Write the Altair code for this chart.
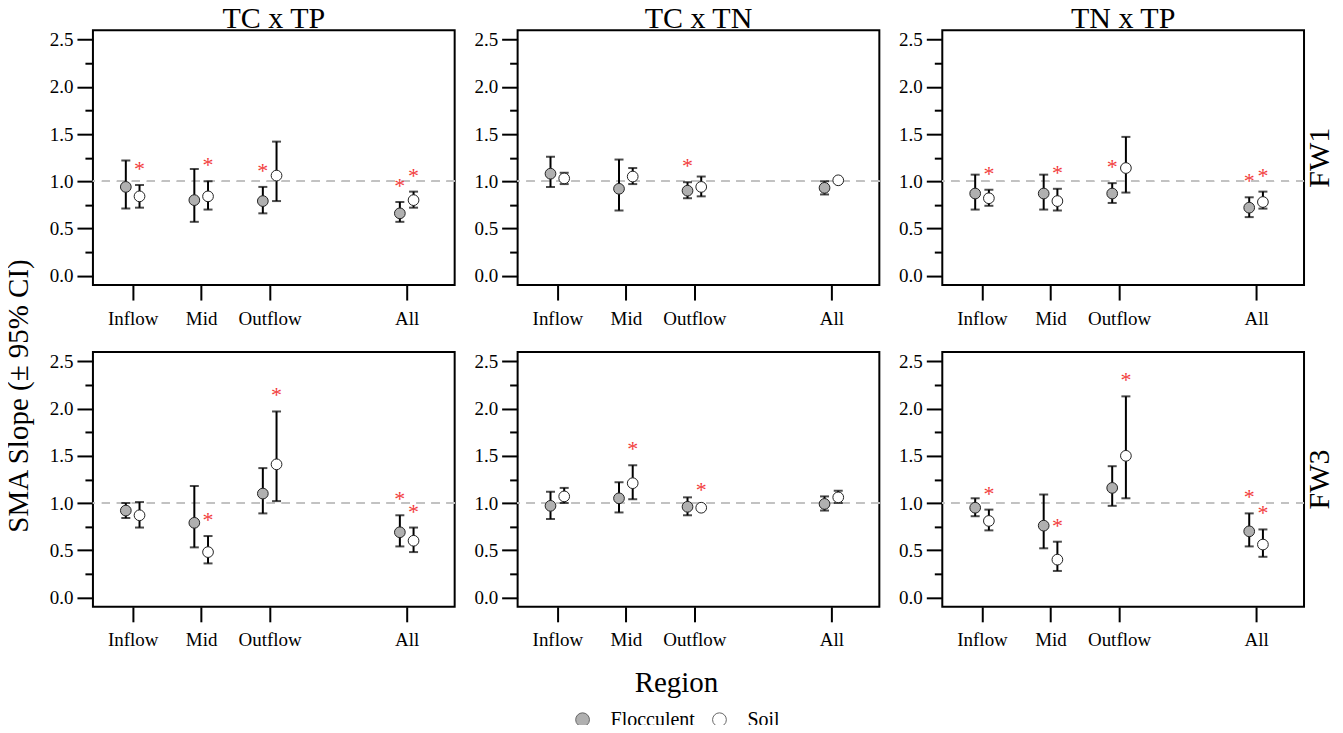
import altair as alt
import pandas as pd

comparisons = ["TC x TP", "TC x TN", "TN x TP"]
sites = ["FW1", "FW3"]
regions = ["Inflow", "Mid", "Outflow", "All"]
region_pos = [1, 2, 3, 5]
types = ["Flocculent", "Soil"]

# values ordered: TC x TP (Inflow, Mid, Outflow, All), TC x TN (...), TN x TP (...)
fw1_floc_slope = [0.94, 0.80, 0.79, 0.66, 1.08, 0.92, 0.90, 0.93, 0.87, 0.87, 0.87, 0.72]
fw1_floc_lower = [0.71, 0.57, 0.66, 0.57, 0.94, 0.69, 0.82, 0.86, 0.70, 0.70, 0.77, 0.62]
fw1_floc_upper = [1.22, 1.13, 0.94, 0.78, 1.26, 1.23, 0.99, 1.00, 1.07, 1.07, 0.98, 0.83]
fw1_floc_sig = [0, 0, 1, 1, 0, 0, 1, 0, 0, 0, 1, 1]

fw1_soil_slope = [0.84, 0.84, 1.06, 0.80, 1.03, 1.05, 0.94, 1.01, 0.82, 0.79, 1.14, 0.78]
fw1_soil_lower = [0.72, 0.70, 0.79, 0.72, 0.97, 0.97, 0.84, 0.99, 0.74, 0.69, 0.88, 0.71]
fw1_soil_upper = [0.96, 1.00, 1.42, 0.89, 1.09, 1.14, 1.05, 1.03, 0.91, 0.92, 1.47, 0.89]
fw1_soil_sig = [1, 1, 0, 1, 0, 0, 0, 0, 1, 1, 0, 1]

fw3_floc_slope = [0.92, 0.79, 1.10, 0.69, 0.97, 1.05, 0.96, 0.99, 0.95, 0.76, 1.16, 0.70]
fw3_floc_lower = [0.84, 0.53, 0.89, 0.54, 0.83, 0.90, 0.87, 0.92, 0.86, 0.52, 0.97, 0.54]
fw3_floc_upper = [1.00, 1.18, 1.37, 0.87, 1.12, 1.22, 1.06, 1.07, 1.05, 1.09, 1.39, 0.89]
fw3_floc_sig = [0, 0, 0, 1, 0, 0, 0, 0, 0, 0, 0, 1]

fw3_soil_slope = [0.87, 0.48, 1.41, 0.60, 1.07, 1.21, 0.95, 1.06, 0.81, 0.40, 1.50, 0.56]
fw3_soil_lower = [0.74, 0.36, 1.02, 0.48, 1.00, 1.04, 0.93, 1.00, 0.71, 0.28, 1.05, 0.43]
fw3_soil_upper = [1.01, 0.65, 1.97, 0.74, 1.16, 1.40, 0.97, 1.13, 0.93, 0.59, 2.13, 0.72]
fw3_soil_sig = [0, 1, 1, 1, 0, 1, 1, 0, 1, 1, 1, 1]

series = [
    ("FW1", "Flocculent", fw1_floc_slope, fw1_floc_lower, fw1_floc_upper, fw1_floc_sig),
    ("FW1", "Soil", fw1_soil_slope, fw1_soil_lower, fw1_soil_upper, fw1_soil_sig),
    ("FW3", "Flocculent", fw3_floc_slope, fw3_floc_lower, fw3_floc_upper, fw3_floc_sig),
    ("FW3", "Soil", fw3_soil_slope, fw3_soil_lower, fw3_soil_upper, fw3_soil_sig),
]

records = []
for site, typ, s, lo, hi, sg in series:
    for ci, comp in enumerate(comparisons):
        for ri, reg in enumerate(regions):
            k = ci * len(regions) + ri
            records.append(dict(site=site, comparison=comp, region=reg,
                                pos=region_pos[ri], type=typ, slope=s[k],
                                lower=lo[k], upper=hi[k], sig=sg[k]))
df = pd.DataFrame(records)

SERIF = "Liberation Serif"

label_expr = " : ".join(
    f"datum.value == {p} ? '{r}'" for p, r in zip(region_pos[:-1], regions[:-1])
) + f" : '{regions[-1]}'"

x_enc = alt.X("xpos:Q",
              scale=alt.Scale(domain=[0.42, 5.7], nice=False, zero=False),
              axis=alt.Axis(values=region_pos, labelExpr=label_expr, title=None,
                            grid=False, domain=False, tickSize=15, tickWidth=2,
                            tickColor="black", labelFont=SERIF, labelFontSize=19,
                            labelColor="black", labelPadding=9))

y_ticks = [i * 0.25 for i in range(11)]
y_enc_axis = alt.Axis(values=y_ticks,
                      labelExpr="datum.value * 2 % 1 === 0 ? format(datum.value, '.1f') : ''",
                      title=None, grid=False, domain=False,
                      tickSize={"condition": {"test": "datum.value * 2 % 1 === 0", "value": 16}, "value": 8},
                      tickWidth=2, tickColor="black", labelFont=SERIF,
                      labelFontSize=19, labelColor="black", labelPadding=4)
y_scale = alt.Scale(domain=[-0.1, 2.6], nice=False, zero=False)

base = alt.Chart().transform_calculate(
    xpos="datum.pos + (datum.type === 'Flocculent' ? -0.1 : 0.1)"
)

ref = base.mark_rule(color="#c2c2c2", strokeDash=[8, 7], strokeWidth=1.4).encode(
    y=alt.Y(datum=1, scale=y_scale, axis=y_enc_axis)
)

err = base.mark_rule(color="black", strokeWidth=2).encode(
    x=x_enc, y=alt.Y("lower:Q", scale=y_scale, axis=y_enc_axis), y2="upper:Q"
)
cap_lo = base.mark_tick(orient="horizontal", size=9, thickness=2, color="black").encode(
    x=x_enc, y=alt.Y("lower:Q", scale=y_scale, axis=y_enc_axis)
)
cap_hi = base.mark_tick(orient="horizontal", size=9, thickness=2, color="black").encode(
    x=x_enc, y=alt.Y("upper:Q", scale=y_scale, axis=y_enc_axis)
)
pts = base.mark_circle(size=115, stroke="#222222", strokeWidth=1, opacity=1).encode(
    x=x_enc,
    y=alt.Y("slope:Q", scale=y_scale, axis=y_enc_axis),
    fill=alt.Fill("type:N",
                  scale=alt.Scale(domain=types, range=["#b0b0b0", "#ffffff"]),
                  legend=alt.Legend(orient="none", legendX=480, legendY=680,
                                    title=None, direction="horizontal",
                                    symbolType="circle", symbolSize=190,
                                    symbolStrokeColor="#666666", symbolStrokeWidth=1,
                                    labelFont=SERIF, labelFontSize=20, labelColor="black",
                                    labelOffset=18, columnPadding=14)),
)
stars = base.transform_filter("datum.sig == 1").mark_text(
    text="*", color="#f23c3c", font=SERIF, fontSize=22, baseline="alphabetic", dy=-9
).encode(x=x_enc, y=alt.Y("upper:Q", scale=y_scale, axis=y_enc_axis))

layer = alt.layer(ref, err, cap_lo, cap_hi, pts, stars, data=df).properties(
    width=362, height=255
)

chart = layer.facet(
    row=alt.Row("site:N", sort=sites,
                header=alt.Header(title=None, labelOrient="right",
                                  labelAngle=-90, labelFont=SERIF, labelFontSize=30,
                                  labelColor="black", labelPadding=-14)),
    column=alt.Column("comparison:N", sort=comparisons,
                      header=alt.Header(title="Region", titleOrient="bottom", labelOrient="top",
                                        labelFont=SERIF, labelFontSize=30, labelColor="black",
                                        labelPadding=-4, titleFont=SERIF, titleFontSize=29,
                                        titleFontWeight="normal", titleColor="black",
                                        titlePadding=52)),
    spacing={"row": 67, "column": 63},
    bounds="flush",
).resolve_axis(x="independent", y="independent").configure_view(
    stroke="black", strokeWidth=2
).properties(
    title=alt.TitleParams("SMA Slope (\u00b1 95% CI)", orient="left", anchor="middle",
                          font=SERIF, fontSize=29, fontWeight="normal", color="black",
                          offset=14, dx=-29),
    padding={"left": -3, "top": -4, "right": 0, "bottom": -5},
)

chart.save("out.html", embed_options={"renderer": "svg", "actions": False})
